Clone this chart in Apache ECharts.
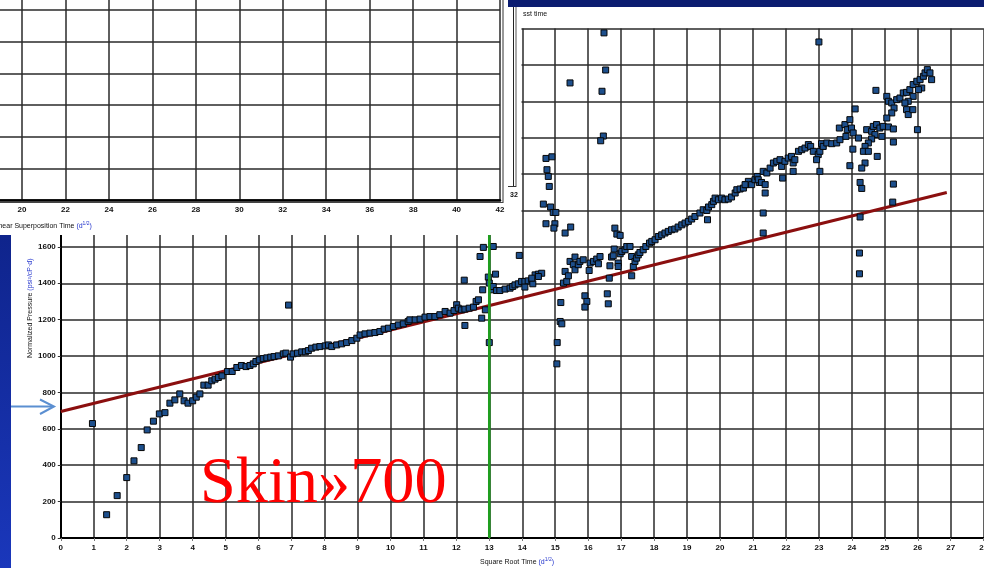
<!DOCTYPE html>
<html><head><meta charset="utf-8">
<script src="https://cdn.jsdelivr.net/npm/echarts@6/dist/echarts.min.js"></script>
<style>html,body{margin:0;padding:0;background:#fff}#c{width:984px;height:568px}</style>
</head><body><div id="c"></div><script>
// Square-root time (d^1/2) of each measured point
const sqrtTime = [
0.96,1.39,1.71,2.0,2.22,2.44,2.62,2.81,2.99,3.16,3.31,3.46,3.61,3.74,3.86,4.0,4.11,4.22,4.34,4.47,4.58,4.68,4.78,4.89,
5.06,5.2,5.34,5.48,5.62,5.74,5.84,5.92,6.02,6.14,6.25,6.37,6.47,6.6,6.75,6.83,6.91,6.97,7.05,7.18,7.31,7.42,7.51,7.61,7.74,7.86,8.02,8.12,
8.22,8.37,8.52,8.67,8.83,8.98,9.08,9.23,9.38,9.53,9.68,9.81,9.94,10.09,10.24,10.39,10.54,10.59,10.75,10.9,11.05,11.2,11.35,11.5,11.66,11.81,11.93,
12.01,12.06,12.16,12.26,12.26,12.24,12.39,12.52,12.6,12.67,12.72,12.77,12.8,12.82,12.88,12.97,13.0,13.0,13.07,13.12,13.12,13.19,13.22,13.32,13.48,13.63,13.71,13.78,13.88,13.91,
13.98,14.08,14.18,14.29,14.39,14.49,14.59,14.49,14.32,14.08,14.29,
14.72,14.9,14.75,14.79,14.82,14.64,14.86,14.94,15.02,14.72,14.99,14.96,15.47,15.3,15.45,16.48,16.53,16.42,16.46,16.38,
15.17,15.15,15.2,15.06,15.05,
15.25,15.35,15.3,15.4,15.45,15.55,15.6,15.6,15.7,15.75,15.85,16.03,16.06,16.16,16.26,16.31,16.36,16.66,16.71,16.76,16.79,16.91,16.91,16.97,17.02,17.12,17.17,17.27,17.32,17.37,17.42,17.47,17.52,17.57,17.67,17.75,17.86,17.93,18.03,18.13,18.23,18.33,18.43,18.53,18.63,18.73,18.84,18.94,19.04,19.14,19.24,19.39,19.49,19.62,
16.64,17.32,15.9,15.96,15.9,16.58,16.61,16.81,16.87,16.97,
19.6,19.65,19.75,19.8,19.85,19.95,20.05,20.15,20.25,20.35,20.46,20.51,20.61,20.71,20.79,20.86,20.96,21.06,21.13,21.19,
20.76,21.16,21.26,21.37,21.37,21.31,21.31,21.31,21.42,21.52,21.62,21.72,21.82,21.87,21.97,22.07,22.17,22.22,22.27,22.38,22.48,22.58,22.68,22.75,22.83,21.9,22.22,
23.12,22.98,22.93,23.03,23.03,23.08,23.13,23.24,23.39,23.54,23.64,23.82,23.62,23.79,23.94,24.1,23.86,23.99,24.04,24.2,24.03,23.94,23.0,
24.45,24.6,24.65,24.75,24.85,24.95,25.11,25.26,24.91,24.7,24.6,24.5,24.4,24.35,24.5,24.4,24.3,24.77,25.26,24.25,24.3,25.26,25.24,24.25,24.23,24.23,24.73,
25.06,25.11,25.21,25.28,25.36,25.46,25.56,25.66,25.76,25.86,25.97,26.07,26.17,26.22,26.29,26.37,26.42,26.12,26.02,25.86,25.71,25.61,25.66,25.71,25.85,25.21,25.06,25.99
];
// Normalized pressure of each measured point
const normPressure = [
629,128,233,332,424,497,594,642,682,689,741,759,792,754,741,754,774,792,840,840,864,873,882,891,
915,915,937,948,942,948,957,970,979,986,990,994,997,1001,1012,1016,1280,994,1012,1016,1023,1023,1030,1043,1049,1052,1056,1061,
1052,1061,1067,1074,1085,1098,1116,1122,1126,1129,1135,1148,1153,1162,1171,1177,1190,1199,1199,1203,1214,1217,1217,1227,1245,1236,1250,
1282,1263,1254,1258,1168,1417,1263,1269,1300,1309,1547,1208,1364,1597,1254,1434,1401,1074,1364,1382,1602,1450,1360,1360,1368,1373,1382,1391,1397,1553,
1410,1410,1413,1419,1446,1450,1455,1437,1397,1379,1428,
2086,2095,2024,1987,1932,1835,1819,1789,1789,1727,1727,1703,1709,1676,2501,2776,2572,2455,2209,2183,
1294,1190,1177,1074,957,
1401,1410,1465,1441,1520,1502,1474,1544,1502,1520,1529,1470,1511,1520,1533,1507,1547,1496,1544,1551,1588,1511,1492,1562,1575,1584,1602,1602,1547,1492,1520,1538,1556,1569,1584,1602,1621,1630,1639,1657,1666,1676,1685,1694,1698,1709,1721,1731,1740,1753,1767,1786,1804,1749,
1428,1441,1331,1300,1269,1342,1287,1703,1670,1663,
1800,1819,1832,1850,1868,1859,1868,1859,1863,1874,1896,1914,1918,1923,1942,1960,1942,1969,1987,1954,
1942,1969,1954,1942,1896,1786,1676,2015,2006,2033,2061,2070,2079,2042,2070,2088,2097,2061,2079,2125,2134,2143,2162,2152,2125,1978,2015,
2152,2107,2079,2015,2125,2167,2152,2171,2167,2171,2189,2207,2253,2272,2299,2358,2244,2253,2226,2198,2137,2046,2726,
2244,2235,2262,2272,2253,2262,2259,2248,2207,2217,2193,2171,2152,2125,2125,2061,2033,2097,2176,1954,1921,1945,1846,1764,1566,1452,2460,
2427,2400,2391,2363,2409,2418,2446,2449,2464,2492,2510,2519,2537,2556,2574,2556,2519,2473,2464,2427,2400,2391,2354,2327,2354,2336,2308,2244
];
// straight-line fit (skin ~ 700 intercept)
const trendX = [0, 26.88];
const trendY = [695, 1899];
// vertical marker at sqrt(t) = 13
const markerX = [13, 13];
const markerY = [0, 2800];
// axis ranges
const mainX = {min: 0, max: 28, step: 1};
const mainY = {min: 0, max: 2800, step: 200, lastLabel: 1600};
const insetX = {min: 18, max: 42, step: 2};
const insetY = {min: 0, max: 7, step: 1};
const texts = {
  xTitle: 'Square Root Time ', unit: '(d', sup: '1/2', close: ')',
  yTitle: 'Normalized Pressure ', yUnit: '(psi²/cP·d)',
  insetTitle: 'Linear Superposition Time ',
  header: 'sst time',
  skin: 'Skin\u00bb700'
};

const points = sqrtTime.map((x, i) => [x, normPressure[i]]);
const trend = trendX.map((x, i) => [x, trendY[i]]);
const marker = markerX.map((x, i) => [x, markerY[i]]);

const lbl = {fontSize: 8, color: '#111', fontFamily: 'Liberation Sans', fontWeight: 'bold'};
const gridLine = {show: true, lineStyle: {color: '#2a2a2a', width: 1.5}};

const chart = echarts.init(document.getElementById('c'), null, {renderer: 'canvas'});
const option = {
  animation: false,
  backgroundColor: '#fff',
  grid: [
    {left: 60.8, top: 28.5, width: 922.9, height: 509.5, containLabel: false, outerBoundsMode: 'none'},
    {left: -21.45, top: -21.7, width: 521.5, height: 221.7, z: 110, containLabel: false, outerBoundsMode: 'none'}
  ],
  xAxis: [
    {gridIndex: 0, type: 'value', min: mainX.min, max: mainX.max, interval: mainX.step,
     axisLine: {show: true, onZero: false, lineStyle: {color: '#000', width: 2}},
     axisTick: {show: true, length: 3, lineStyle: {color: '#777'}},
     axisLabel: Object.assign({margin: 6}, lbl),
     splitLine: gridLine},
    {gridIndex: 1, type: 'value', min: insetX.min, max: insetX.max, interval: insetX.step, z: 110,
     axisLine: {show: true, onZero: false, lineStyle: {color: '#000', width: 2.5}},
     axisTick: {show: false},
     axisLabel: Object.assign({margin: 6}, lbl),
     splitLine: gridLine}
  ],
  yAxis: [
    {gridIndex: 0, type: 'value', min: mainY.min, max: mainY.max, interval: mainY.step,
     axisLine: {show: true, onZero: false, lineStyle: {color: '#000', width: 2}},
     axisTick: {show: true, length: 3, lineStyle: {color: '#333'}},
     axisLabel: Object.assign({margin: 5, formatter: v => v <= mainY.lastLabel ? String(v) : ''}, lbl),
     splitLine: gridLine},
    {gridIndex: 1, type: 'value', min: insetY.min, max: insetY.max, interval: insetY.step, z: 110,
     axisLine: {show: false}, axisTick: {show: false}, axisLabel: {show: false},
     splitLine: gridLine}
  ],
  series: [
    {type: 'line', xAxisIndex: 0, yAxisIndex: 0, data: trend, symbol: 'none', z: 3,
     lineStyle: {color: '#8b0f0f', width: 3}},
    {type: 'scatter', xAxisIndex: 0, yAxisIndex: 0, data: points, symbol: 'rect', symbolSize: 6, z: 4,
     itemStyle: {color: '#1d4f8c', borderColor: '#060606', borderWidth: 1, opacity: 1}},
    {type: 'line', xAxisIndex: 0, yAxisIndex: 0, data: marker, symbol: 'none', z: 5,
     lineStyle: {color: '#1f9e1f', width: 2.6}}
  ],
  graphic: [
    // white backing of the upper-left overlaid window
    {type: 'rect', z: 100, shape: {x: 0, y: 0, width: 521.5, height: 235}, style: {fill: '#fff'}},
    // dark title bar of the upper-right window
    {type: 'rect', z: 120, shape: {x: 508, y: 0, width: 476, height: 7}, style: {fill: '#0b1c70'}},
    {type: 'text', z: 120, x: 523, y: 14, style: {text: texts.header, font: '7px Liberation Sans', fill: '#111', align: 'left', verticalAlign: 'middle', textAlign: 'left', textVerticalAlign: 'middle'}},
    // thin axis strip between the two windows
    {type: 'line', z: 120, shape: {x1: 513.5, y1: 7, x2: 513.5, y2: 187}, style: {stroke: '#222', lineWidth: 1}},
    {type: 'line', z: 120, shape: {x1: 516, y1: 7, x2: 516, y2: 187}, style: {stroke: '#555', lineWidth: 1}},
    {type: 'line', z: 120, shape: {x1: 508, y1: 186.5, x2: 516, y2: 186.5}, style: {stroke: '#333', lineWidth: 1}},
    {type: 'line', z: 120, shape: {x1: 503, y1: 0, x2: 503, y2: 203}, style: {stroke: '#333', lineWidth: 1}},
    {type: 'line', z: 120, shape: {x1: 0, y1: 202.5, x2: 503, y2: 202.5}, style: {stroke: '#444', lineWidth: 1}},
    {type: 'text', z: 120, x: 510, y: 195, style: {text: '32', font: 'bold 7px Liberation Sans', fill: '#111', align: 'left', verticalAlign: 'middle'}},
    {type: 'text', z: 120, x: -7, y: 226, style: {text: '{a|' + texts.insetTitle + '}{b|' + texts.unit + '}{s|' + texts.sup + '}{b|' + texts.close + '}',
      rich: {a: {font: '7px Liberation Sans', fill: '#111'}, b: {font: '7px Liberation Sans', fill: '#2233cc'}, s: {font: '5px Liberation Sans', fill: '#2233cc', padding: [0, 0, 4, 0]}},
      align: 'left', verticalAlign: 'middle'}},
    // left blue slide bar
    {type: 'rect', z: 120, shape: {x: 0, y: 235, width: 11, height: 333},
     style: {fill: new echarts.graphic.LinearGradient(0, 0, 0, 1, [{offset: 0, color: '#0f248c'}, {offset: 1, color: '#1a37bb'}])}},
    // arrow pointing to intercept
    {type: 'line', z: 120, shape: {x1: 11, y1: 406.5, x2: 53, y2: 406.5}, style: {stroke: '#5b8fd1', lineWidth: 2}},
    {type: 'polyline', z: 120, shape: {points: [[40, 399.5], [54, 406.5], [40, 414]]}, style: {stroke: '#5b8fd1', lineWidth: 2, fill: null}},
    // axis titles
    {type: 'text', z: 120, x: 30.5, y: 358, rotation: Math.PI / 2,
     style: {text: '{a|' + texts.yTitle + '}{b|' + texts.yUnit + '}', rich: {a: {font: '7px Liberation Sans', fill: '#111'}, b: {font: '7px Liberation Sans', fill: '#2233cc'}}, align: 'left', verticalAlign: 'middle'}},
    {type: 'text', z: 120, x: 480, y: 562,
     style: {text: '{a|' + texts.xTitle + '}{b|' + texts.unit + '}{s|' + texts.sup + '}{b|' + texts.close + '}',
      rich: {a: {font: '7px Liberation Sans', fill: '#111'}, b: {font: '7px Liberation Sans', fill: '#2233cc'}, s: {font: '5px Liberation Sans', fill: '#2233cc', padding: [0, 0, 4, 0]}},
      align: 'left', verticalAlign: 'middle'}},
    // big red annotation
    {type: 'text', z: 120, x: 200, y: 485, scaleX: 0.975,
     style: {text: texts.skin, font: '66px Liberation Serif', fill: '#ff0000', align: 'left', verticalAlign: 'middle', textAlign: 'left', textVerticalAlign: 'middle'}}
  ]
};
chart.setOption(option);
</script></body></html>
